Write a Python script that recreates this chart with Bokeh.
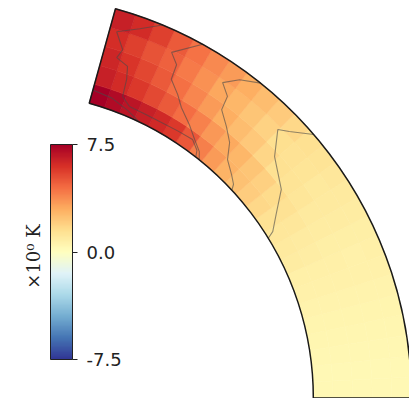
import numpy as np
from bokeh.plotting import figure
from bokeh.models import (LinearColorMapper, ColorBar, FixedTicker, PrintfTickFormatter,
                          Range1d, Label, ColumnDataSource)
from bokeh.transform import transform
from bokeh.embed import file_html
from bokeh.resources import INLINE

# ---------------- data ----------------
lat_max_deg = 74.5          # latitude extent of the slice (deg)
r_inner = 0.757             # inner radius (units of outer radius)
r_outer = 1.0
n_lat = 25
n_rad = 5

# temperature fluctuation (K), rows = radial bins inner->outer, cols = latitude bins equator->pole
T_r0 = [0.30, 0.35, 0.40, 0.45, 0.50, 0.55, 0.65, 0.75, 0.90, 1.00, 1.15, 1.40, 1.75,
        2.10, 2.45, 2.85, 3.40, 4.10, 5.00, 5.80, 6.20, 6.50, 6.80, 7.10, 7.50]
T_r1 = [0.30, 0.35, 0.40, 0.45, 0.50, 0.55, 0.65, 0.75, 0.85, 0.95, 1.15, 1.35, 1.60,
        1.95, 2.30, 2.70, 3.05, 3.50, 4.00, 4.50, 4.95, 5.35, 5.80, 6.15, 6.50]
T_r2 = [0.30, 0.35, 0.40, 0.45, 0.50, 0.55, 0.65, 0.72, 0.80, 0.90, 1.05, 1.20, 1.30,
        1.45, 1.80, 2.20, 2.55, 2.95, 3.40, 3.90, 4.40, 4.95, 5.40, 5.90, 6.30]
T_r3 = [0.30, 0.35, 0.40, 0.45, 0.50, 0.55, 0.65, 0.70, 0.80, 0.90, 1.00, 1.10, 1.25,
        1.35, 1.50, 1.90, 2.30, 2.75, 3.15, 3.65, 4.20, 4.75, 5.15, 5.60, 6.05]
T_r4 = [0.30, 0.35, 0.40, 0.45, 0.50, 0.55, 0.65, 0.75, 0.80, 0.90, 1.00, 1.15, 1.30,
        1.45, 1.75, 2.15, 2.55, 2.95, 3.40, 3.85, 4.35, 4.95, 5.60, 6.15, 6.45]

# contour lines: (latitude deg, radius)
c1_lat = [67.4, 70.3, 73.4, 71.7, 72.2, 70.1, 69.5, 69.1, 67.3, 64.0, 61.2, 57.5, 54.4, 52.6, 52.0]
c1_r   = [1.000, 0.971, 0.946, 0.908, 0.885, 0.873, 0.842, 0.799, 0.782, 0.781, 0.781, 0.784, 0.787, 0.772, 0.757]
c2_lat = [61.1, 64.6, 63.1, 62.8, 60.7, 59.1, 56.4, 54.1, 52.1, 51.2]
c2_r   = [1.000, 0.947, 0.925, 0.887, 0.861, 0.838, 0.813, 0.790, 0.773, 0.757]
c3_lat = [51.2, 53.9, 55.7, 53.9, 53.4, 51.1, 49.0, 47.3, 44.9, 43.4, 42.8]
c3_r   = [1.000, 0.975, 0.945, 0.924, 0.889, 0.863, 0.838, 0.803, 0.783, 0.770, 0.757]
c4_lat = [40.7, 43.4, 44.8, 42.1, 37.3, 34.6, 32.1, 31.5]
c4_r   = [1.000, 0.960, 0.943, 0.891, 0.852, 0.809, 0.775, 0.757]
c5_lat = [74.5, 70.8, 67.4, 64.5]
c5_r   = [0.791, 0.786, 0.772, 0.757]

cbar_ticks = [-7.5, 0.0, 7.5]
cbar_label = "×10\u2070 K"

# ---------------- palette (RdYlBu reversed, interpolated) ----------------
rdylbu = ['#a50026', '#d73027', '#f46d43', '#fdae61', '#fee090', '#ffffbf',
          '#e0f3f8', '#abd9e9', '#74add1', '#4575b4', '#313695'][::-1]
rgb = np.array([[int(h[i:i + 2], 16) for i in (1, 3, 5)] for h in rdylbu], float)
pos = np.linspace(0, 1, len(rdylbu))
tt = np.linspace(0, 1, 256)
pal = ['#%02x%02x%02x' % tuple(int(round(np.interp(t, pos, rgb[:, k]))) for k in range(3)) for t in tt]
mapper = LinearColorMapper(palette=pal, low=-7.5, high=7.5)

# ---------------- geometry / view ----------------
W, H = 409, 398
CX_PX, CY_PX, SCALE = 7.0, 397.5, 404.0     # page position of the slice centre, px per unit radius
x_range = Range1d(-CX_PX / SCALE, (W - CX_PX) / SCALE)
y_range = Range1d((CY_PX - H) / SCALE, CY_PX / SCALE)

p = figure(width=W, height=H, x_range=x_range, y_range=y_range, output_backend="svg",
           toolbar_location=None, min_border=0, x_axis_location=None, y_axis_location=None)
p.grid.visible = False
p.outline_line_color = None
p.background_fill_color = "white"

lat_edges = np.linspace(0, lat_max_deg, n_lat + 1)
r_edges = np.linspace(r_inner, r_outer, n_rad + 1)
T = [T_r0, T_r1, T_r2, T_r3, T_r4]
rows = {"inner": [], "outer": [], "start": [], "end": [], "v": []}
for i in range(n_rad):
    for j in range(n_lat):
        rows["inner"].append(r_edges[i])
        rows["outer"].append(r_edges[i + 1])
        rows["start"].append(np.radians(lat_edges[j]))
        rows["end"].append(np.radians(lat_edges[j + 1]))
        rows["v"].append(T[i][j])
src = ColumnDataSource(rows)
p.annular_wedge(x=0, y=0, inner_radius="inner", outer_radius="outer",
                start_angle="start", end_angle="end", source=src,
                fill_color=transform("v", mapper), line_color=transform("v", mapper),
                line_width=0.6)

for la, rr in [(c1_lat, c1_r), (c2_lat, c2_r), (c3_lat, c3_r), (c4_lat, c4_r), (c5_lat, c5_r)]:
    a = np.radians(la)
    rr = np.array(rr)
    p.line(rr * np.cos(a), rr * np.sin(a), line_color="#4a4a4a", line_alpha=0.6, line_width=1.1)

p.annular_wedge(x=0, y=0, inner_radius=r_inner, outer_radius=r_outer,
                start_angle=0, end_angle=np.radians(lat_max_deg),
                fill_alpha=0, line_color="#1a1a1a", line_width=1.5)

cb = ColorBar(color_mapper=mapper, ticker=FixedTicker(ticks=cbar_ticks),
              formatter=PrintfTickFormatter(format="%.1f"),
              width=22, height=215, location=(50, 39), padding=0, margin=0,
              bar_line_color="#222222", bar_line_width=1,
              major_tick_line_color="#222222", major_tick_out=5, major_tick_in=0,
              minor_tick_line_color=None, label_standoff=9,
              major_label_text_font="DejaVu Sans", major_label_text_font_size="18px",
              major_label_text_color="#222222",
              background_fill_alpha=0, border_line_color=None)
p.add_layout(cb, "center")

lab = Label(x=(33 - CX_PX) / SCALE, y=(CY_PX - 256) / SCALE, text=cbar_label, angle=np.pi / 2,
            text_align="center", text_baseline="middle", text_font="DejaVu Serif",
            text_font_size="18px", text_color="#222222")
p.add_layout(lab)

open("out.html", "w").write(file_html(p, INLINE))
